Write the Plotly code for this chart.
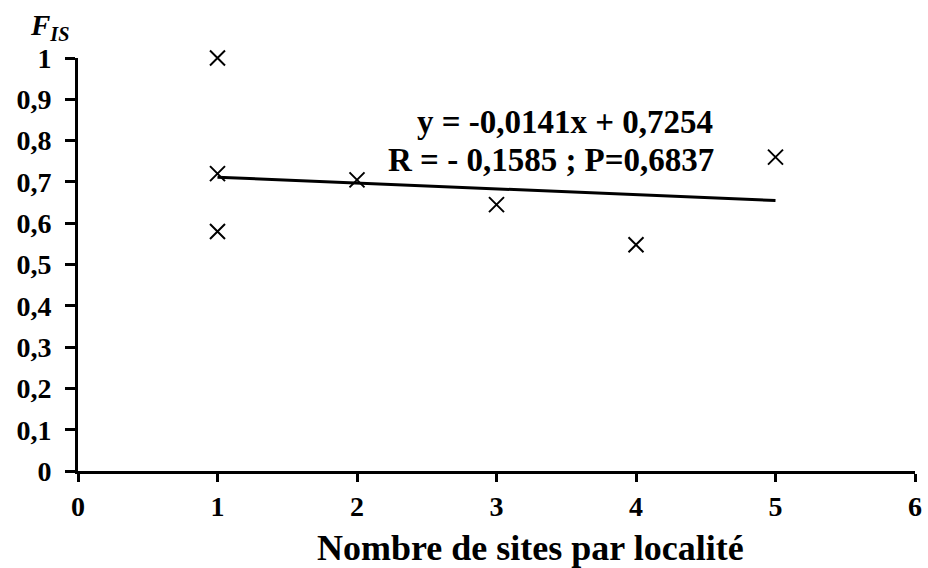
import plotly.graph_objects as go

# data
sites = [1, 1, 1, 2, 3, 4, 5]
fis = [1.0, 0.72, 0.58, 0.705, 0.645, 0.548, 0.76]
slope = -0.0141
intercept = 0.7254
trend_x = [1, 5]
eq_lines = ["y = -0,0141x + 0,7254", "R = - 0,1585 ; P=0,6837"]

FONT = "Liberation Serif"
trend_y = [slope * x + intercept for x in trend_x]

W, H = 928, 568
ML, MR, MT, MB = 78, 13, 58, 97
plot_w = W - ML - MR
plot_h = H - MT - MB


def px(xp):
    return (xp - ML) / plot_w


def py(yp):
    return (H - MB - yp) / plot_h


fig = go.Figure()
fig.add_trace(go.Scatter(
    x=trend_x, y=trend_y, mode="lines",
    line=dict(color="black", width=3), showlegend=False, hoverinfo="skip"))
fig.add_trace(go.Scatter(
    x=sites, y=fis, mode="markers", cliponaxis=False,
    marker=dict(symbol="x-thin", size=15, line=dict(color="black", width=2)),
    showlegend=False))

fig.update_layout(
    width=W, height=H,
    margin=dict(l=ML, r=MR, t=MT, b=MB, autoexpand=False),
    paper_bgcolor="white", plot_bgcolor="white",
    separators=", ",
    font=dict(family=FONT, color="black", size=28),
    xaxis=dict(range=[0, 6], dtick=1, tick0=0, showgrid=False, zeroline=False,
               automargin=False,
               showline=True, linecolor="black", linewidth=3,
               ticks="outside", ticklen=8, tickwidth=3, tickcolor="black",
               tickfont=dict(family=FONT, size=28, weight="bold"),
               ticklabelstandoff=0),
    yaxis=dict(range=[0, 1], dtick=0.1, tick0=0, showgrid=False, zeroline=False,
               automargin=False,
               showline=True, linecolor="black", linewidth=3,
               ticks="outside", ticklen=10, tickwidth=3, tickcolor="black",
               tickfont=dict(family=FONT, size=28, weight="bold"),
               ticklabelstandoff=8),
)

common = dict(xref="paper", yref="paper", showarrow=False,
              xanchor="center", yanchor="middle")
fig.add_annotation(x=px(530), y=py(548), text="<b>Nombre de sites par localité</b>",
                   font=dict(family=FONT, size=36), **common)
fig.add_annotation(x=px(565), y=py(122), text="<b>" + eq_lines[0] + "</b>",
                   font=dict(family=FONT, size=33), **common)
fig.add_annotation(x=px(551), y=py(160), text="<b>" + eq_lines[1] + "</b>",
                   font=dict(family=FONT, size=33), **common)
fig.add_annotation(x=px(50), y=py(27), text="<b><i>F<sub>IS</sub></i></b>",
                   font=dict(family=FONT, size=29), **common)

fig.write_html("out.html", config={"displayModeBar": False},
               post_script="document.body.style.margin='0';")
